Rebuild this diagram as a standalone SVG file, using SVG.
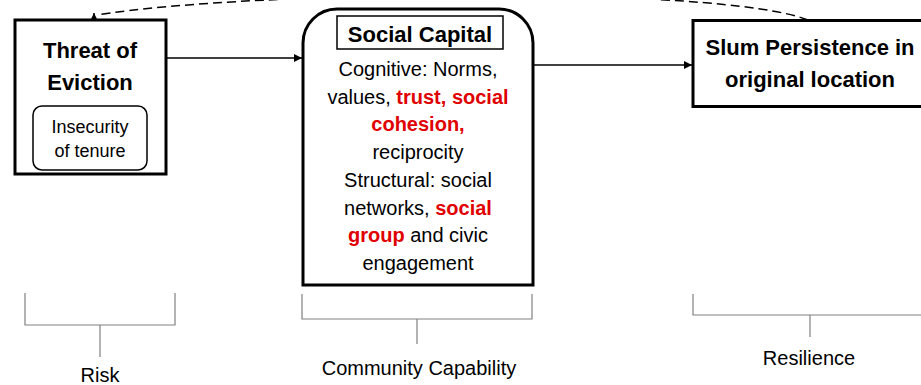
<svg xmlns="http://www.w3.org/2000/svg" width="921" height="385" viewBox="0 0 921 385">
  <style>
    text { font-family: "Liberation Sans", Arial, sans-serif; fill: #000; text-anchor: middle; }
    .b { font-weight: bold; font-size: 22px; }
    .body { font-size: 20px; }
    .small { font-size: 18px; }
    .lbl { font-size: 20px; }
    .red { fill: #e00000; font-weight: bold; }
    .box { fill: #fff; stroke: #000; stroke-width: 3; }
    .thin { fill: #fff; stroke: #000; stroke-width: 1.5; }
    .conn { fill: none; stroke: #000; stroke-width: 1.5; }
    .dash { fill: none; stroke: #000; stroke-width: 1.5; stroke-dasharray: 9 5; }
    .brk { fill: none; stroke: #808080; stroke-width: 1.2; }
  </style>
  <defs>
    <marker id="arr" viewBox="0 0 8 8" refX="8" refY="4" markerWidth="8" markerHeight="8" markerUnits="userSpaceOnUse" orient="auto">
      <path d="M0,0 L8,4 L0,8 z" fill="#000"/>
    </marker>
    <marker id="arrUp" viewBox="0 0 8 8" refX="8" refY="4" markerWidth="8" markerHeight="8" markerUnits="userSpaceOnUse" orient="-90">
      <path d="M0,0 L8,4 L0,8 z" fill="#000"/>
    </marker>
  </defs>

  <g id="connectors">
    <path class="dash" d="M808,20 C720,-15 250,-10 97,15" />
    <path class="conn" d="M94,20 L94,13" marker-end="url(#arrUp)" />
    <path class="conn" d="M166,58 L302,58" marker-end="url(#arr)" />
    <path class="conn" d="M533,65 L692,65" marker-end="url(#arr)" />
  </g>

  <g id="threat">
    <rect class="box" x="15" y="20" width="151" height="154" />
    <text class="b" x="90" y="58">Threat of</text>
    <text class="b" x="90" y="90">Eviction</text>
    <rect class="thin" x="33" y="106" width="114" height="64" rx="9" />
    <text class="small" x="90" y="133">Insecurity</text>
    <text class="small" x="90" y="157">of tenure</text>
  </g>

  <g id="social-capital">
    <path class="box" d="M303,285 V43 A34,34 0 0 1 337,9 H499 A34,34 0 0 1 533,43 V285 Z" />
    <rect class="thin" x="337" y="16" width="166" height="33" />
    <text class="b" x="420" y="42">Social Capital</text>
    <text class="body" x="418" y="76">Cognitive: Norms,</text>
    <text class="body" x="418" y="103.7">values, <tspan class="red">trust, social</tspan></text>
    <text class="body red" x="418" y="131.4">cohesion,</text>
    <text class="body" x="418" y="159.1">reciprocity</text>
    <text class="body" x="418" y="186.8">Structural: social</text>
    <text class="body" x="418" y="214.5">networks, <tspan class="red">social</tspan></text>
    <text class="body" x="418" y="242.2"><tspan class="red">group</tspan> and civic</text>
    <text class="body" x="418" y="269.9">engagement</text>
  </g>

  <g id="slum">
    <rect class="box" x="693" y="20.5" width="232" height="86" />
    <text class="b" x="810" y="55">Slum Persistence in</text>
    <text class="b" x="810" y="87">original location</text>
  </g>

  <g id="risk">
    <path class="brk" d="M25,293 V325 H175 V293 M100,325 V357" />
    <text class="lbl" x="100" y="382">Risk</text>
  </g>

  <g id="community-capability">
    <path class="brk" d="M302,294 V319 H532 V294 M417,319 V344" />
    <text class="lbl" x="419" y="375">Community Capability</text>
  </g>

  <g id="resilience">
    <path class="brk" d="M693,294 V315 H925 M810,315 V337" />
    <text class="lbl" x="809" y="365">Resilience</text>
  </g>
</svg>
